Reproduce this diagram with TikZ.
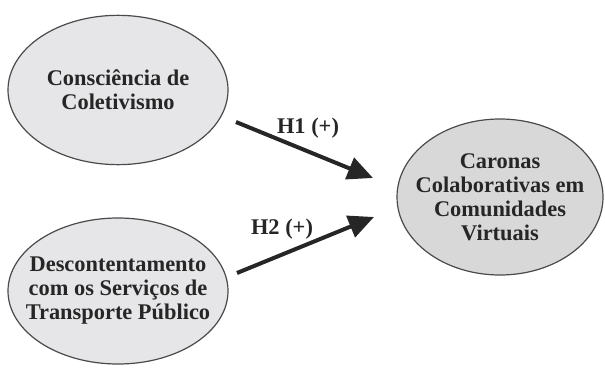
\documentclass[tikz,border=0pt]{standalone}
\usepackage{fontspec}
\setmainfont{Liberation Serif}
\usetikzlibrary{shapes.geometric,arrows.meta}
\definecolor{ellfill}{HTML}{E6E6E8}
\definecolor{ellfilldark}{HTML}{D8D8D8}
\definecolor{ellline}{HTML}{4A4A4A}
\definecolor{txtcol}{HTML}{262626}
\tikzset{
	construct/.style = {ellipse, draw=ellline, line width=0.9pt, fill=ellfill,
	 inner sep=-14pt, align=center, text=txtcol,
	 font=\fontsize{16.8}{18}\selectfont\bfseries},
	hyp/.style = {-{Triangle[length=19pt,width=17pt]}, line width=3pt, draw=txtcol},
	hyplabel/.style = {text=txtcol, font=\fontsize{16.8}{18}\selectfont\bfseries}}

\begin{document}
\begin{tikzpicture}[x=0.75pt, y=-0.75pt]
\useasboundingbox (0,0) rectangle (605,367);

% NODES
% constructs
\node (cons) [construct, minimum width=165pt, minimum height=112pt] at (118,90) {Consciência de\\Coletivismo};
\node (desc) [construct, minimum width=165pt, minimum height=109.5pt] at (118,291) {Descontentamento\\com os Serviços de\\Transporte Público};
\node (caronas) [construct, fill=ellfilldark, minimum width=154.5pt, minimum height=117pt] at (500,197) {Caronas\\Colaborativas em\\Comunidades\\Virtuais};
% hypotheses
\node (h1) [hyplabel] at (308,128) {H1 (+)};
\node (h2) [hyplabel] at (282,229) {H2 (+)};
\coordinate (h1from) at (236,122);
\coordinate (h1to) at (373,178);
\coordinate (h2from) at (237,273);
\coordinate (h2to) at (374,217);

%CONNECTIONS
\draw [hyp] (h1from) -- (h1to);
\draw [hyp] (h2from) -- (h2to);

\end{tikzpicture}
\end{document}
